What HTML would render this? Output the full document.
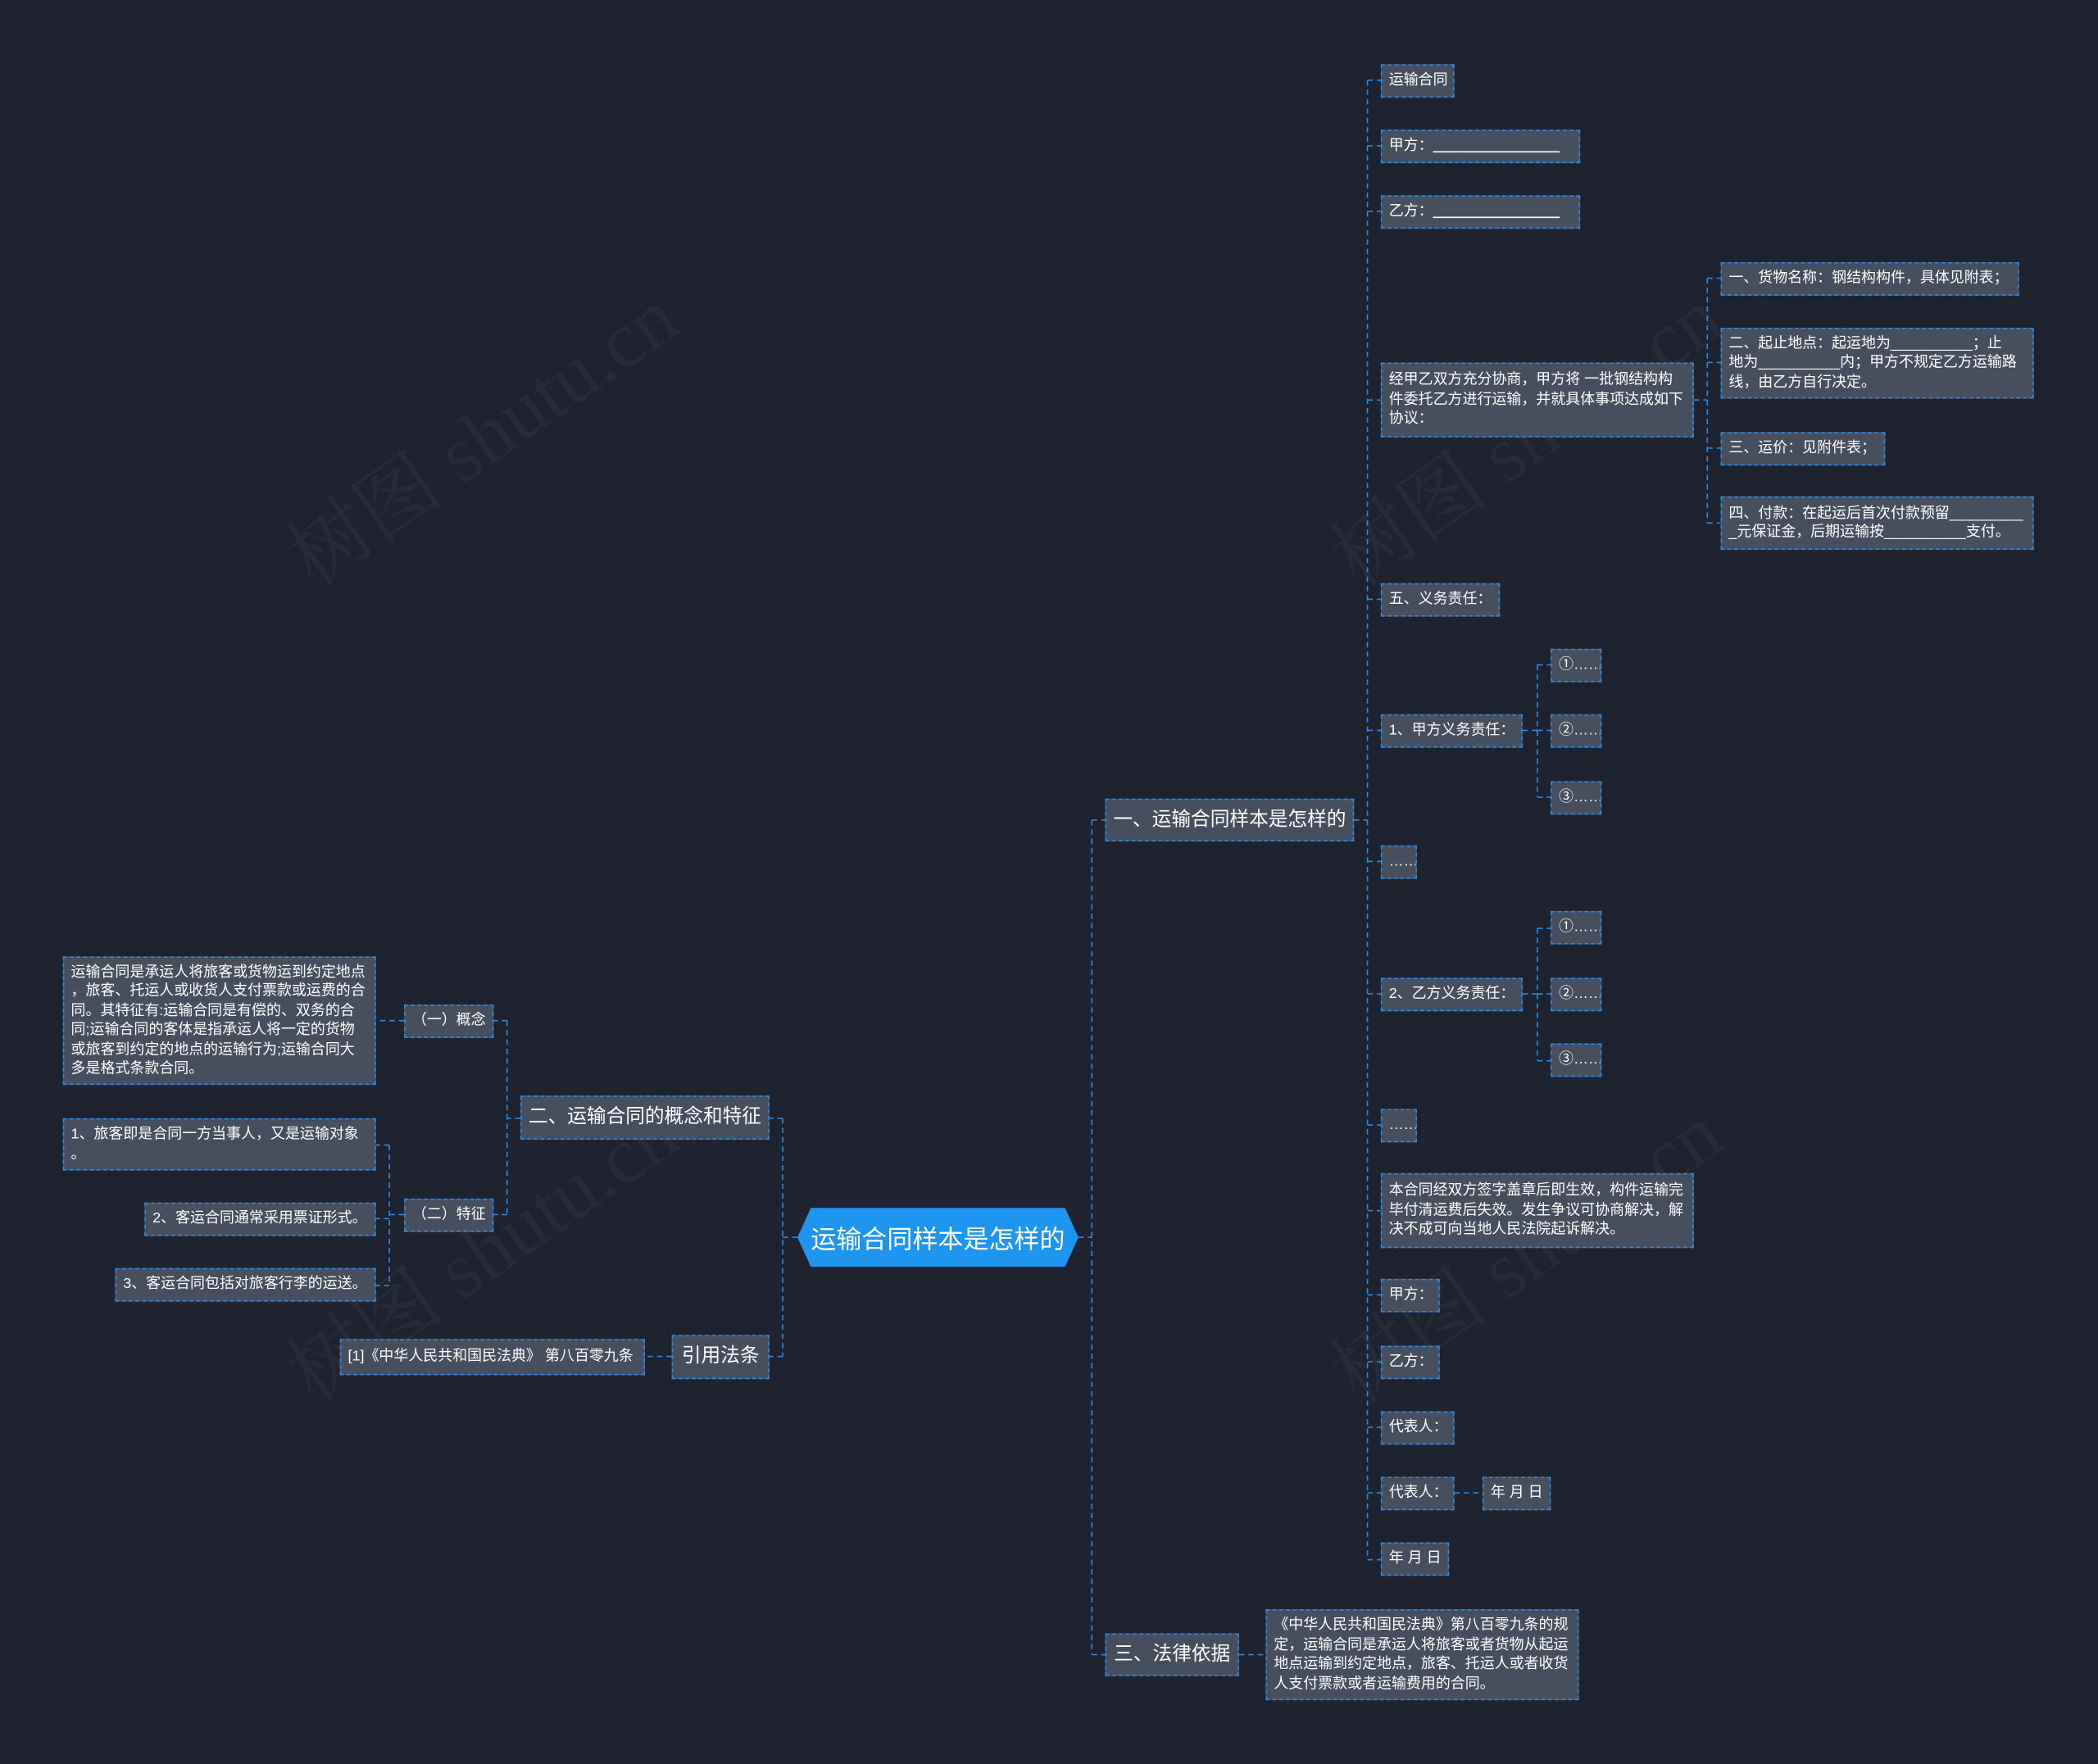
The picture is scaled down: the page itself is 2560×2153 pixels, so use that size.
<!DOCTYPE html>
<html><head><meta charset="utf-8"><style>
html,body{margin:0;padding:0;background:#1f2330;}
body{width:2560px;height:2153px;overflow:hidden;position:relative;}
#w{position:absolute;left:0;top:0;width:1568px;height:1319px;transform:scale(1.63265);transform-origin:0 0;font-family:"Liberation Sans","Noto Sans CJK SC",sans-serif;color:#fff;}
.n{position:absolute;box-sizing:border-box;background:#474f5f;border:1px dashed #2d8ae0;font-size:11px;line-height:14.5px;padding:0 5px;display:flex;align-items:center;white-space:nowrap;overflow:hidden;}
.m{font-size:14.5px;justify-content:center;padding:0 2px;}
svg{position:absolute;left:0;top:0;}
.wm{position:absolute;color:rgba(255,255,255,0.04);font-size:60px;font-family:"Liberation Serif","Noto Serif CJK SC",serif;transform:rotate(-35deg);white-space:nowrap;}
</style></head><body><div id="w">
<div class="wm" style="left:190px;top:280px">树图 shutu.cn</div>
<div class="wm" style="left:970px;top:280px">树图 shutu.cn</div>
<div class="wm" style="left:190px;top:890px">树图 shutu.cn</div>
<div class="wm" style="left:970px;top:890px">树图 shutu.cn</div>
<svg width="1568" height="1319" fill="none" stroke="#2d8ae0" stroke-width="1" stroke-dasharray="4,3">
<path d="M806 925H816M816 613V1237M816 613H826M816 1237H826"/>
<path d="M1012 613H1022M1022 60V1166"/>
<path d="M1022 60H1032M1022 109H1032M1022 158H1032M1022 299H1032M1022 448H1032M1022 546H1032M1022 644H1032M1022 743H1032M1022 841H1032M1022 905H1032M1022 968H1032M1022 1018H1032M1022 1067H1032M1022 1116H1032M1022 1166H1032"/>
<path d="M1266 299H1276M1276 208V391M1276 208H1286M1276 271H1286M1276 335H1286M1276 391H1286"/>
<path d="M1138 546H1149M1149 497V596M1149 497H1159M1149 546H1159M1149 596H1159"/>
<path d="M1138 743H1149M1149 694V793M1149 694H1159M1149 743H1159M1149 793H1159"/>
<path d="M1087 1116H1108M926 1237H946"/>
<path d="M596 925H585M585 836V1014M585 836H575M585 1014H575M502 1014H482"/>
<path d="M389 836H379M379 763V908M379 763H369M379 908H369M302 763H281"/>
<path d="M302 908H291M291 856V961M291 856H281M291 911H281M291 961H281"/>
</svg>
<svg width="1568" height="1319"><polygon points="606,903 796,903 806,925 796,947 606,947 596,925" fill="#1e96f0"/></svg>
<div style="position:absolute;left:596px;top:903px;width:210px;height:44px;display:flex;align-items:center;justify-content:center;font-size:19px;color:#fff">运输合同样本是怎样的</div>

<div class="n m" style="left:826px;top:597px;width:186px;height:32px">一、运输合同样本是怎样的</div>
<div class="n m" style="left:389px;top:819px;width:186px;height:33px">二、运输合同的概念和特征</div>
<div class="n m" style="left:502px;top:998px;width:73px;height:33px">引用法条</div>
<div class="n m" style="left:826px;top:1221px;width:100px;height:32px">三、法律依据</div>

<div class="n" style="left:1032px;top:48px;width:55px;height:25px">运输合同</div>
<div class="n" style="left:1032px;top:97px;width:149px;height:25px">甲方：<u>&nbsp;&nbsp;&nbsp;&nbsp;&nbsp;&nbsp;&nbsp;&nbsp;&nbsp;&nbsp;&nbsp;&nbsp;&nbsp;&nbsp;&nbsp;&nbsp;&nbsp;&nbsp;&nbsp;&nbsp;&nbsp;&nbsp;&nbsp;&nbsp;&nbsp;&nbsp;&nbsp;&nbsp;&nbsp;&nbsp;&nbsp;</u></div>
<div class="n" style="left:1032px;top:146px;width:149px;height:25px">乙方：<u>&nbsp;&nbsp;&nbsp;&nbsp;&nbsp;&nbsp;&nbsp;&nbsp;&nbsp;&nbsp;&nbsp;&nbsp;&nbsp;&nbsp;&nbsp;&nbsp;&nbsp;&nbsp;&nbsp;&nbsp;&nbsp;&nbsp;&nbsp;&nbsp;&nbsp;&nbsp;&nbsp;&nbsp;&nbsp;&nbsp;&nbsp;</u></div>
<div class="n" style="left:1032px;top:271px;width:234px;height:56px">经甲乙双方充分协商，甲方将 一批钢结构构<br>件委托乙方进行运输，并就具体事项达成如下<br>协议：</div>
<div class="n" style="left:1286px;top:196px;width:223px;height:25px">一、货物名称：钢结构构件，具体见附表；</div>
<div class="n" style="left:1286px;top:245px;width:234px;height:53px">二、起止地点：起运地为__________；止<br>地为__________内；甲方不规定乙方运输路<br>线，由乙方自行决定。</div>
<div class="n" style="left:1286px;top:323px;width:123px;height:25px">三、运价：见附件表；</div>
<div class="n" style="left:1286px;top:371px;width:234px;height:40px">四、付款：在起运后首次付款预留_________<br>_元保证金，后期运输按__________支付。</div>
<div class="n" style="left:1032px;top:436px;width:89px;height:25px">五、义务责任：</div>
<div class="n" style="left:1032px;top:534px;width:106px;height:25px">1、甲方义务责任：</div>
<div class="n" style="left:1159px;top:485px;width:38px;height:25px">①……</div>
<div class="n" style="left:1159px;top:534px;width:38px;height:25px">②……</div>
<div class="n" style="left:1159px;top:584px;width:38px;height:25px">③……</div>
<div class="n" style="left:1032px;top:632px;width:27px;height:25px">……</div>
<div class="n" style="left:1032px;top:731px;width:106px;height:25px">2、乙方义务责任：</div>
<div class="n" style="left:1159px;top:681px;width:38px;height:25px">①……</div>
<div class="n" style="left:1159px;top:731px;width:38px;height:25px">②……</div>
<div class="n" style="left:1159px;top:780px;width:38px;height:25px">③……</div>
<div class="n" style="left:1032px;top:829px;width:27px;height:25px">……</div>
<div class="n" style="left:1032px;top:877px;width:234px;height:56px">本合同经双方签字盖章后即生效，构件运输完<br>毕付清运费后失效。发生争议可协商解决，解<br>决不成可向当地人民法院起诉解决。</div>
<div class="n" style="left:1032px;top:956px;width:44px;height:25px">甲方：</div>
<div class="n" style="left:1032px;top:1006px;width:44px;height:25px">乙方：</div>
<div class="n" style="left:1032px;top:1055px;width:55px;height:25px">代表人：</div>
<div class="n" style="left:1032px;top:1104px;width:55px;height:25px">代表人：</div>
<div class="n" style="left:1108px;top:1104px;width:51px;height:25px">年 月 日</div>
<div class="n" style="left:1032px;top:1153px;width:51px;height:25px">年 月 日</div>
<div class="n" style="left:946px;top:1203px;width:234px;height:68px">《中华人民共和国民法典》第八百零九条的规<br>定，运输合同是承运人将旅客或者货物从起运<br>地点运输到约定地点，旅客、托运人或者收货<br>人支付票款或者运输费用的合同。</div>

<div class="n" style="left:47px;top:715px;width:234px;height:96px">运输合同是承运人将旅客或货物运到约定地点<br>，旅客、托运人或收货人支付票款或运费的合<br>同。其特征有:运输合同是有偿的、双务的合<br>同;运输合同的客体是指承运人将一定的货物<br>或旅客到约定的地点的运输行为;运输合同大<br>多是格式条款合同。</div>
<div class="n" style="left:302px;top:751px;width:67px;height:25px">（一）概念</div>
<div class="n" style="left:47px;top:836px;width:234px;height:39px">1、旅客即是合同一方当事人，又是运输对象<br>。</div>
<div class="n" style="left:108px;top:899px;width:173px;height:25px">2、客运合同通常采用票证形式。</div>
<div class="n" style="left:86px;top:948px;width:195px;height:25px">3、客运合同包括对旅客行李的运送。</div>
<div class="n" style="left:302px;top:896px;width:67px;height:25px">（二）特征</div>
<div class="n" style="left:254px;top:1001px;width:228px;height:27px">[1]《中华人民共和国民法典》 第八百零九条</div>
</div></body></html>
